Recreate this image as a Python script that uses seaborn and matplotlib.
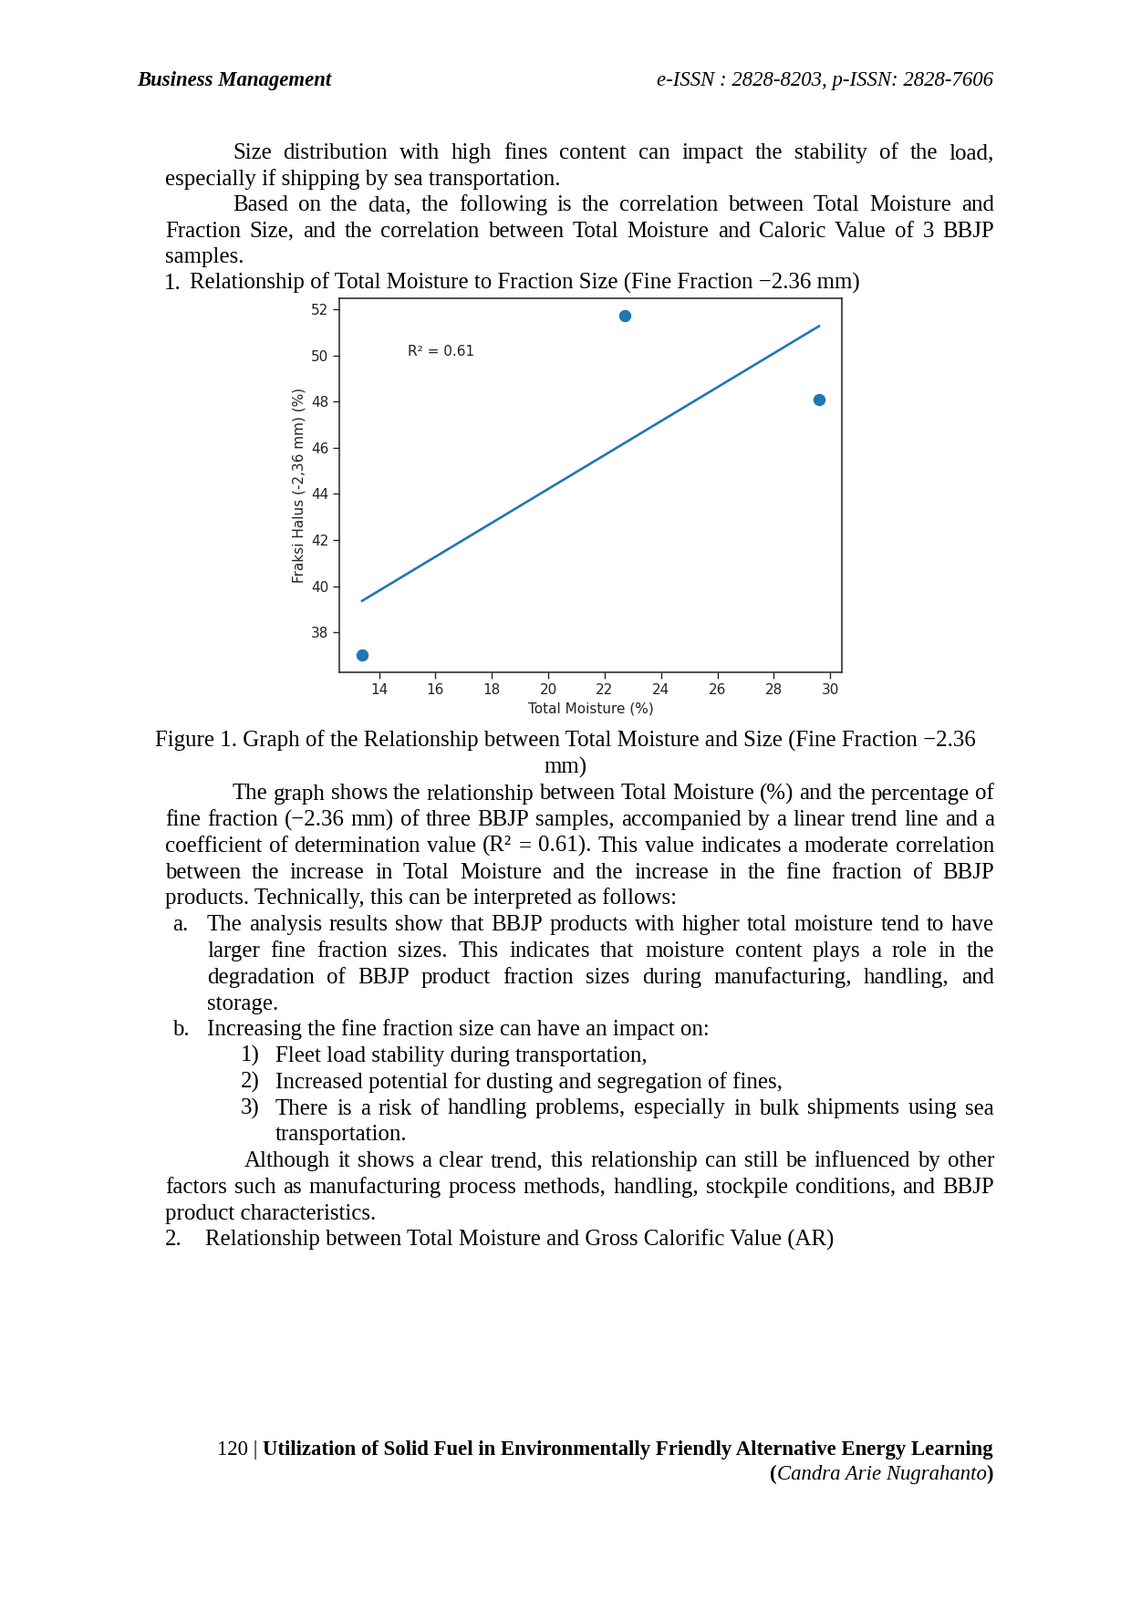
import numpy as np
import pandas as pd
import seaborn as sns
import matplotlib
matplotlib.use('Agg')
import matplotlib.pyplot as plt

# data
total_moisture = [13.4, 22.7, 29.6]
fraksi_halus = [37.0, 51.75, 48.1]
x_ticks = [14, 16, 18, 20, 22, 24, 26, 28, 30]
y_ticks = [38, 40, 42, 44, 46, 48, 50, 52]

plt.rcParams['font.family'] = ['DejaVu Sans']
SERIF = ['Liberation Serif', 'DejaVu Serif']
FS = 17.95   # body text (12 pt on the page)
FS_HF = 16.4  # header / footer (11 pt)

fig = plt.figure(figsize=(12.4, 17.54), dpi=100)
fig.patch.set_facecolor('white')

# page layer in pixel units
pg = fig.add_axes([0, 0, 1, 1])
pg.set_xlim(0, 1240)
pg.set_ylim(1754, 0)
pg.axis('off')

renderer = fig.canvas.get_renderer()
LEFT, RIGHT = 181, 1090


def put(x, y, s, **kw):
    kw.setdefault('fontsize', FS)
    kw.setdefault('family', SERIF)
    return pg.text(x, y, s, va='baseline', **kw)


def justify(x0, y, s, x1=RIGHT):
    words = s.split(' ')
    arts = [put(0, y, w) for w in words]
    widths = [a.get_window_extent(renderer=renderer).width for a in arts]
    gap = (x1 - x0 - sum(widths)) / (len(words) - 1)
    x = x0
    for a, w in zip(arts, widths):
        a.set_x(x)
        x += w + gap


# header
put(150, 94, 'Business Management', weight='bold', style='italic', fontsize=FS_HF)
put(1089, 94, 'e-ISSN : 2828-8203, p-ISSN: 2828-7606', style='italic', ha='right', fontsize=FS_HF)

# text above chart
top = [174 + i * 28.6 for i in range(6)]
justify(255, top[0], 'Size distribution with high fines content can impact the stability of the load,')
put(LEFT, top[1], 'especially if shipping by sea transportation.')
justify(255, top[2], 'Based on the data, the following is the correlation between Total Moisture and')
justify(LEFT, top[3], 'Fraction Size, and the correlation between Total Moisture and Caloric Value of 3 BBJP')
put(LEFT, top[4], 'samples.')
put(180, top[5], '1.')
put(208, top[5], 'Relationship of Total Moisture to Fraction Size (Fine Fraction \u22122.36 mm)')

# chart
ax = fig.add_axes([372 / 1240, 1 - 737 / 1754, (923 - 372) / 1240, (737 - 327) / 1754])
df = pd.DataFrame({'tm': total_moisture, 'fh': fraksi_halus})
sns.regplot(data=df, x='tm', y='fh', ci=None, ax=ax, color='#1f77b4',
            scatter_kws=dict(s=75, alpha=1), line_kws=dict(lw=1.9))
r2 = np.corrcoef(total_moisture, fraksi_halus)[0, 1] ** 2
ax.text(15, 50, f'R\u00b2 = {r2:.2f}', fontsize=11, color='#222222')
ax.set_xticks(x_ticks)
ax.set_yticks(y_ticks)
ax.set_xlim(12.59, 30.41)
ax.set_ylim(36.26, 52.49)
ax.tick_params(labelsize=11, length=5, width=1, color='#222222', labelcolor='#222222')
ax.set_xlabel('Total Moisture (%)', fontsize=11, color='#222222')
ax.set_ylabel('Fraksi Halus (-2,36 mm) (%)', fontsize=11, color='#222222')
for sp in ax.spines.values():
    sp.set_linewidth(1.1)
    sp.set_color('#222222')

# caption and text below chart
ys = [819 + i * 28.75 for i in range(20)]
put(620, ys[0], 'Figure 1. Graph of the Relationship between Total Moisture and Size (Fine Fraction \u22122.36', ha='center')
put(620, ys[1], 'mm)', ha='center')
justify(255, ys[2], 'The graph shows the relationship between Total Moisture (%) and the percentage of')
justify(LEFT, ys[3], 'fine fraction (\u22122.36 mm) of three BBJP samples, accompanied by a linear trend line and a')
justify(LEFT, ys[4], 'coefficient of determination value (R\u00b2 = 0.61). This value indicates a moderate correlation')
justify(LEFT, ys[5], 'between the increase in Total Moisture and the increase in the fine fraction of BBJP')
put(LEFT, ys[6], 'products. Technically, this can be interpreted as follows:')
put(189, ys[7], 'a.')
justify(227, ys[7], 'The analysis results show that BBJP products with higher total moisture tend to have')
justify(227, ys[8], 'larger fine fraction sizes. This indicates that moisture content plays a role in the')
justify(227, ys[9], 'degradation of BBJP product fraction sizes during manufacturing, handling, and')
put(227, ys[10], 'storage.')
put(189, ys[11], 'b.')
put(227, ys[11], 'Increasing the fine fraction size can have an impact on:')
put(264, ys[12], '1)')
put(302, ys[12], 'Fleet load stability during transportation,')
put(264, ys[13], '2)')
put(302, ys[13], 'Increased potential for dusting and segregation of fines,')
put(264, ys[14], '3)')
justify(302, ys[14], 'There is a risk of handling problems, especially in bulk shipments using sea')
put(302, ys[15], 'transportation.')
justify(268, ys[16], 'Although it shows a clear trend, this relationship can still be influenced by other')
justify(LEFT, ys[17], 'factors such as manufacturing process methods, handling, stockpile conditions, and BBJP')
put(LEFT, ys[18], 'product characteristics.')
put(181, ys[19], '2.')
put(225, ys[19], 'Relationship between Total Moisture and Gross Calorific Value (AR)')

# footer, right aligned
b = put(1089, 1595, 'Utilization of Solid Fuel in Environmentally Friendly Alternative Energy Learning',
        weight='bold', ha='right', fontsize=FS_HF)
wb = b.get_window_extent(renderer=renderer).width
put(1089 - wb, 1595, '120 | ', ha='right', fontsize=FS_HF)
c = put(1089, 1622, ')', weight='bold', ha='right', fontsize=FS_HF)
wc = c.get_window_extent(renderer=renderer).width
n = put(1089 - wc, 1622, 'Candra Arie Nugrahanto', style='italic', ha='right', fontsize=FS_HF)
wn = n.get_window_extent(renderer=renderer).width
put(1089 - wc - wn, 1622, '(', weight='bold', ha='right', fontsize=FS_HF)

fig.savefig('out.png', dpi=100)
